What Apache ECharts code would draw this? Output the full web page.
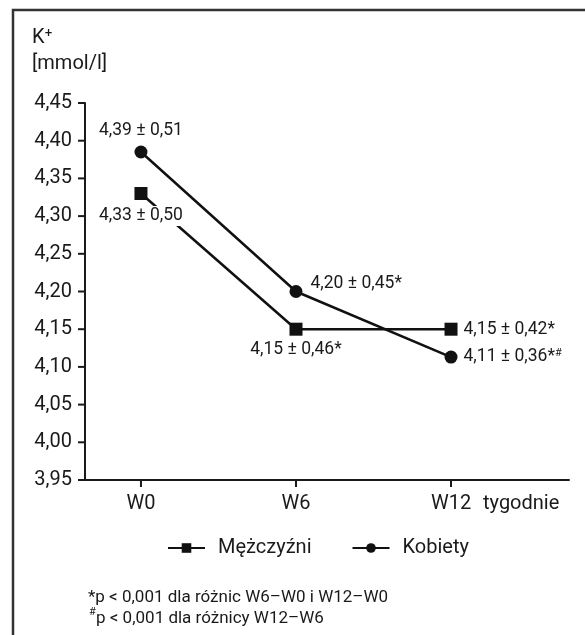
<!DOCTYPE html>
<html><head><meta charset="utf-8">
<script src="https://cdn.jsdelivr.net/npm/echarts@6/dist/echarts.min.js"></script>
<style>html,body{margin:0;padding:0;background:#fff}#c{width:585px;height:635px}</style>
</head><body><div id="c"></div>
<script>
const categories = ['W0', 'W6', 'W12'];
const menValues = [4.33, 4.15, 4.15];
const womenValues = [4.385, 4.20, 4.113];
const menLabels = ['4,33 ± 0,50', '4,15 ± 0,46*', '4,15 ± 0,42*'];
const womenLabels = ['4,39 ± 0,51', '4,20 ± 0,45*', '4,11 ± 0,36*#'];
const seriesNames = ['Mężczyźni', 'Kobiety'];
const yTicks = [3.95, 4.00, 4.05, 4.10, 4.15, 4.20, 4.25, 4.30, 4.35, 4.40, 4.45];
const footnotes = ['*p < 0,001 dla różnic W6–W0 i W12–W0', 'p < 0,001 dla różnicy W12–W6'];

const FONT = 'Roboto, "Noto Sans", sans-serif';
const X_MIN = -0.361, X_MAX = 2.761, Y_MIN = 3.95, Y_MAX = 4.45;
const chart = echarts.init(document.getElementById('c'), null, {renderer: 'canvas'});

const labelText = s => s.replace('#', '{s|#}');
const baseLabel = {
  show: true, color: '#1a1a1a', fontFamily: FONT, fontSize: 17.5,
  backgroundColor: '#fff', padding: [1, 2],
  rich: {s: {fontSize: 11, verticalAlign: 'top', lineHeight: 12, fontFamily: FONT, color: '#1a1a1a'}}
};
const menPos = [
  {position: 'bottom', distance: 6},
  {position: 'bottom', distance: 4},
  {position: 'right', distance: 4}
];
const womenPos = [
  {position: 'top', distance: 5},
  {position: 'right', distance: 6, offset: [0, -8]},
  {position: 'right', distance: 4}
];
const mk = (vals, labels, pos) => vals.map((v, i) => ({
  value: [i, v],
  label: Object.assign({}, baseLabel, pos[i], {formatter: labelText(labels[i])})
}));

const staticGraphics = [
  {type: 'polyline', shape: {points: [[13, 635], [13, 10], [585, 10]]}, style: {stroke: '#333', lineWidth: 2.5, fill: null}, silent: true},
  {type: 'text', style: {text: 'K⁺', x: 32, y: 38, font: '20px ' + FONT, fill: '#1a1a1a', textVerticalAlign: 'middle'}},
  {type: 'text', style: {text: '[mmol/l]', x: 32, y: 64, font: '20px ' + FONT, fill: '#1a1a1a', textVerticalAlign: 'middle'}},
  {type: 'text', style: {text: 'tygodnie', x: 483, y: 504, font: '20px ' + FONT, fill: '#1a1a1a', textVerticalAlign: 'middle'}},
  {type: 'text', style: {text: footnotes[0], x: 88, y: 598, font: '17px ' + FONT, fill: '#1a1a1a', textVerticalAlign: 'middle'}},
  {type: 'text', style: {text: '#', x: 89, y: 612, font: '11px ' + FONT, fill: '#1a1a1a', textVerticalAlign: 'middle'}},
  {type: 'text', style: {text: footnotes[1], x: 96, y: 619, font: '17px ' + FONT, fill: '#1a1a1a', textVerticalAlign: 'middle'}}
];

chart.setOption({
  animation: false,
  grid: {left: 85, right: 16, top: 103, bottom: 155, containLabel: false},
  xAxis: {
    type: 'value', min: X_MIN, max: X_MAX,
    splitLine: {show: false},
    axisLine: {show: true, onZero: false, lineStyle: {color: '#1a1a1a', width: 2}},
    axisTick: {show: false},
    axisLabel: {show: true, customValues: [0, 1, 2], margin: 14, color: '#1a1a1a', fontFamily: FONT, fontSize: 20,
      formatter: v => categories[Math.round(v)] || ''}
  },
  yAxis: {
    type: 'value', min: Y_MIN, max: Y_MAX, interval: 0.05,
    splitLine: {show: false},
    axisLine: {show: true, onZero: false, lineStyle: {color: '#1a1a1a', width: 2}},
    axisTick: {show: false},
    axisLabel: {margin: 13, color: '#1a1a1a', fontFamily: FONT, fontSize: 20,
      formatter: v => v.toFixed(2).replace('.', ',')}
  },
  legend: {
    show: true, bottom: 72, left: 162,
    itemWidth: 37, itemHeight: 12, itemGap: 40,
    textStyle: {fontFamily: FONT, fontSize: 20, color: '#1a1a1a', padding: [0, 0, 0, 8]},
    data: seriesNames
  },
  series: [
    {
      name: seriesNames[0], type: 'line', data: mk(menValues, menLabels, menPos),
      symbol: 'rect', symbolSize: 13, color: '#111',
      lineStyle: {color: '#111', width: 2.5}, itemStyle: {color: '#111'}, z: 3
    },
    {
      name: seriesNames[1], type: 'line', data: mk(womenValues, womenLabels, womenPos),
      symbol: 'circle', symbolSize: 13, color: '#111',
      lineStyle: {color: '#111', width: 2.5}, itemStyle: {color: '#111'}, z: 4
    }
  ],
  graphic: staticGraphics
});

// tick marks positioned through the library's own scales
const tickGraphics = [];
yTicks.forEach(v => {
  const p = chart.convertToPixel({gridIndex: 0}, [X_MIN, v]);
  tickGraphics.push({type: 'line', shape: {x1: p[0] - 7, y1: p[1], x2: p[0], y2: p[1]},
    style: {stroke: '#1a1a1a', lineWidth: 2}, silent: true, z: 10});
});
categories.forEach((c, i) => {
  const p = chart.convertToPixel({gridIndex: 0}, [i, Y_MIN]);
  tickGraphics.push({type: 'line', shape: {x1: p[0], y1: p[1], x2: p[0], y2: p[1] + 7},
    style: {stroke: '#1a1a1a', lineWidth: 2}, silent: true, z: 10});
});
chart.setOption({graphic: staticGraphics.concat(tickGraphics)}, {replaceMerge: ['graphic']});
</script></body></html>
